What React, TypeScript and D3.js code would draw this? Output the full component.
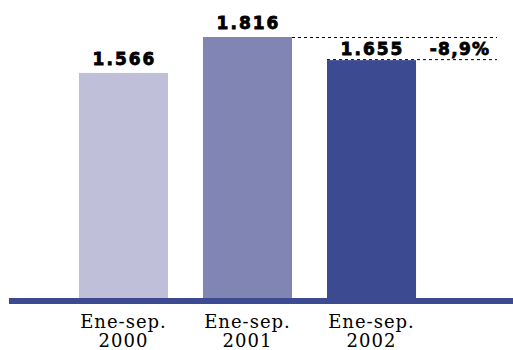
import React from "react";
import * as d3 from "d3";

const categories = ["Ene-sep. 2000", "Ene-sep. 2001", "Ene-sep. 2002"];
const values = [1566, 1816, 1655];
const valueLabels = ["1.566", "1.816", "1.655"];
const changeLabel = "-8,9%";
const colors = ["#c0bfd9", "#8185b3", "#3c4a92"];

const W = 513;
const H = 350;

export default function App() {
  const x = d3.scaleBand<string>().domain(categories).range([44, 451]).padding(0.282);
  const y = d3.scaleLinear().domain([0, 1816]).range([298, 37]);
  const bw = x.bandwidth();
  const last = categories.length - 1;
  const prev = last - 1;
  const dashEnd = 497;
  const valueFont = "'DejaVu Sans', Verdana, sans-serif";
  const labelFont = "'DejaVu Serif', 'Liberation Serif', serif";

  return (
    <svg width={W} height={H} style={{ position: "absolute", left: 0, top: 0, background: "#fff" }}>
      {categories.map((c, i) => (
        <rect key={c} x={x(c)} y={y(values[i])} width={bw} height={y(0) - y(values[i])} fill={colors[i]} />
      ))}
      <line x1={(x(categories[prev]) ?? 0) + bw} x2={dashEnd} y1={y(values[prev]) + 0.5} y2={y(values[prev]) + 0.5}
        stroke="#000" strokeWidth={1} strokeDasharray="3,3" />
      <line x1={(x(categories[last]) ?? 0)} x2={dashEnd} y1={y(values[last]) - 0.5} y2={y(values[last]) - 0.5}
        stroke="#000" strokeWidth={1} strokeDasharray="3,3" />
      <rect x={9} y={y(0)} width={W - 9} height={6} fill="#3c4a92" />
      {categories.map((c, i) => (
        <text key={"v" + c} x={(x(c) ?? 0) + bw / 2 + 1} y={y(values[i]) - (i === last ? 5 : 8)}
          textAnchor="middle" fontFamily={valueFont} fontWeight="bold" fontSize={17} letterSpacing={2}
          fill="#000" stroke="#000" strokeWidth={0.8}>
          {valueLabels[i]}
        </text>
      ))}
      <text x={(x(categories[last]) ?? 0) + bw + 44} y={y(values[last]) - 5} textAnchor="middle"
        fontFamily={valueFont} fontWeight="bold" fontSize={17} letterSpacing={1.3}
        fill="#000" stroke="#000" strokeWidth={0.8}>
        {changeLabel}
      </text>
      {categories.map((c) => {
        const [l1, l2] = c.split(" ");
        const cx = (x(c) ?? 0) + bw / 2;
        return (
          <text key={"l" + c} textAnchor="middle" fontFamily={labelFont} fontSize={18} letterSpacing={1} fill="#000">
            <tspan x={cx} y={328}>{l1}</tspan>
            <tspan x={cx} y={347}>{l2}</tspan>
          </text>
        );
      })}
    </svg>
  );
}
